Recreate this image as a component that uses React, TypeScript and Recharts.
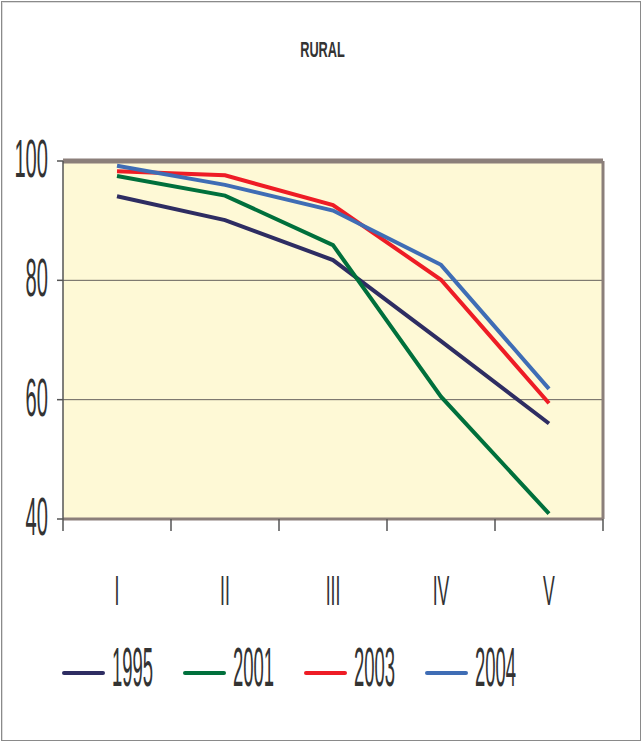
import React from 'react';
import { LineChart, Line, XAxis, YAxis, CartesianGrid, ReferenceLine } from 'recharts';

const categories = ['I', 'II', 'III', 'IV', 'V'];
const s1995 = [94.1, 90.1, 83.4, 69.8, 56.0];
const s2001 = [97.5, 94.2, 85.9, 60.5, 40.9];
const s2003 = [98.3, 97.6, 92.6, 80.1, 59.4];
const s2004 = [99.2, 96.0, 91.7, 82.6, 61.8];
const yTicks = [40, 60, 80, 100];
const boundaryTicks = [0, 1, 2, 3, 4, 5];

const series = [
  { key: '1995', values: s1995, color: '#2E2D62' },
  { key: '2001', values: s2001, color: '#00703C' },
  { key: '2003', values: s2003, color: '#EE1C25' },
  { key: '2004', values: s2004, color: '#3F6DB5' },
];

// pos = centre of each category band on a 0..5 scale (used only for the band-edge tick marks)
const data = categories.map((c, i) => {
  const row: Record<string, string | number> = { cat: c, pos: i + 0.5 };
  series.forEach((s) => (row[s.key] = s.values[i]));
  return row;
});

const FONT = "'Liberation Sans', Arial, sans-serif";

const YTick = (props: any) => {
  const { x, y, payload } = props;
  return (
    <g transform={`translate(${x},${y}) scale(0.38,1)`}>
      <text x={0} y={0} dy={16} textAnchor="end" fontSize={53} fontFamily={FONT} fill="#333">
        {payload.value}
      </text>
    </g>
  );
};

const XTick = (props: any) => {
  const { x, y, payload } = props;
  return (
    <g transform={`translate(${x},${y}) scale(0.42,1)`}>
      <text x={0} y={0} dy={74} textAnchor="middle" fontSize={42} fontFamily={FONT} fill="#333">
        {payload.value}
      </text>
    </g>
  );
};

export default function App() {
  return (
    <div style={{ position: 'absolute', left: 0, top: 0, width: 642, height: 742, background: '#fff' }}>
      <div style={{ position: 'absolute', left: 1, top: 1, right: 1, bottom: 1, border: '1px solid #8a8a8a', boxShadow: 'inset 1px 1px 0 #ddd' }} />
      <div style={{ position: 'absolute', left: 0, top: 37, width: 645, textAlign: 'center' }}>
        <span style={{ display: 'inline-block', fontFamily: FONT, fontWeight: 'bold', fontSize: 22, color: '#333', transform: 'scaleX(0.58)' }}>
          RURAL
        </span>
      </div>
      <LineChart width={642} height={742} data={data} margin={{ top: 161, right: 37, left: 8, bottom: 111 }}>
        <CartesianGrid vertical={false} fill="#FEF9D6" stroke="#66625d" strokeWidth={1} />
        <XAxis
          xAxisId="bounds"
          dataKey="pos"
          type="number"
          domain={[0, 5]}
          ticks={boundaryTicks}
          interval={0}
          allowDataOverflow
          height={12}
          tickSize={12}
          tick={() => <g />}
          axisLine={{ stroke: '#8B7F7A', strokeWidth: 3 }}
          tickLine={{ stroke: '#555', strokeWidth: 1.5 }}
        />
        <XAxis
          xAxisId="cats"
          dataKey="cat"
          scale="band"
          height={100}
          axisLine={false}
          tickLine={false}
          tickSize={0}
          tickMargin={0}
          interval={0}
          tick={<XTick />}
        />
        <YAxis
          domain={[40, 100]}
          ticks={yTicks}
          width={55}
          tickSize={6}
          tickMargin={9}
          axisLine={{ stroke: '#555', strokeWidth: 1.5 }}
          tickLine={{ stroke: '#555', strokeWidth: 1.5 }}
          tick={<YTick />}
        />
        <YAxis
          yAxisId="r"
          orientation="right"
          domain={[40, 100]}
          width={2}
          tick={false}
          tickLine={false}
          axisLine={{ stroke: '#8B7F7A', strokeWidth: 3 }}
        />
        <ReferenceLine y={100} xAxisId="cats" stroke="#8B7F7A" strokeWidth={5} />
        {series.map((s) => (
          <Line
            key={s.key}
            xAxisId="cats"
            dataKey={s.key}
            stroke={s.color}
            strokeWidth={4}
            dot={false}
            activeDot={false}
            isAnimationActive={false}
          />
        ))}
      </LineChart>
      <div style={{ position: 'absolute', left: 62, top: 648, display: 'flex' }}>
        {series.map((s) => (
          <div key={s.key} style={{ width: 121, height: 40, position: 'relative' }}>
            <div style={{ position: 'absolute', left: 0, top: 23, width: 43, height: 4, borderRadius: 2, background: s.color }} />
            <span
              style={{
                position: 'absolute',
                left: 50,
                top: -9,
                fontFamily: FONT,
                fontSize: 56,
                lineHeight: '56px',
                color: '#333',
                transform: 'scaleX(0.33)',
                transformOrigin: 'left center',
                whiteSpace: 'nowrap',
              }}
            >
              {s.key}
            </span>
          </div>
        ))}
      </div>
    </div>
  );
}
